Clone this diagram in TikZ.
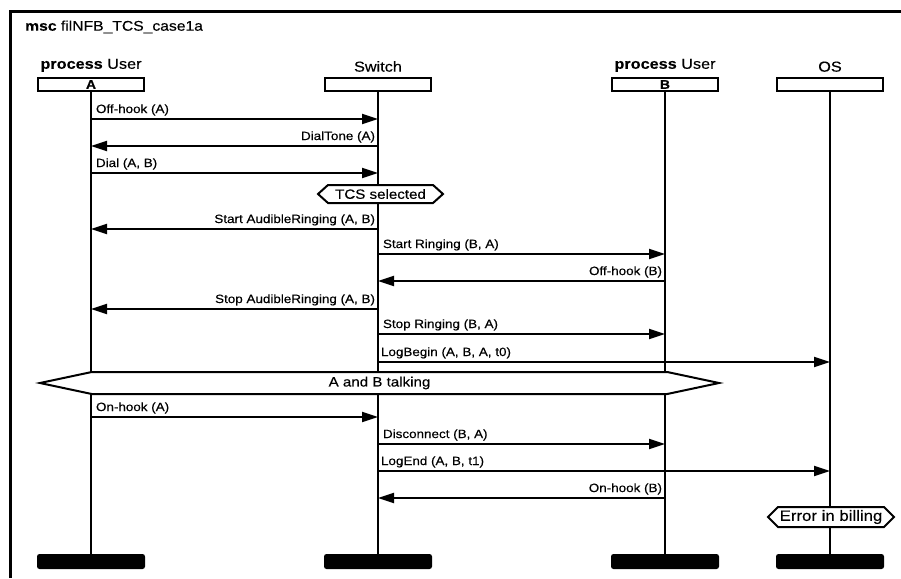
\documentclass[tikz,border=0pt]{standalone}
\usepackage{fontspec}
\setmainfont{Liberation Sans}[FakeStretch=1.12, FakeBold=0.3]
\usetikzlibrary{arrows.meta,positioning,shapes.symbols}

\begin{document}
\begin{tikzpicture}[x=1pt, y=-1pt,
    boxStyle/.style={rectangle, draw, line width=2pt, minimum width=106pt, minimum height=13pt, inner sep=0pt, font=\fontsize{12.5}{12.5}\selectfont\bfseries},
    endStyle/.style={rectangle, fill=black, rounded corners=2.5pt, minimum width=108pt, minimum height=15pt, inner sep=0pt},
    headStyle/.style={inner sep=0pt, font=\fontsize{14.5}{15}\selectfont},
    lifeStyle/.style={line width=1.7pt},
    msgStyle/.style={line width=2pt, -{Triangle[length=16pt, width=10pt]}},
    rightLabel/.style={pos=0, anchor=south west, inner xsep=4pt, inner ysep=2.5pt, font=\fontsize{12}{12}\selectfont},
    leftLabel/.style={pos=0, anchor=south east, inner xsep=2pt, inner ysep=2.5pt, font=\fontsize{12}{12}\selectfont},
    condStyle/.style={shape=signal, signal to=west and east, draw, fill=white, line width=2pt, inner sep=0pt, font=\fontsize{13.5}{14}\selectfont}]
    \useasboundingbox (0,0) rectangle (901,578);
    \draw[line width=3pt] (10,578) -- (10,12) -- (901,12);
    \node[anchor=west, inner sep=0pt, font=\fontsize{14}{14}\selectfont] (title) at (25,27) {\textbf{msc} filNFB\_TCS\_case1a};

    \node[boxStyle] (A_box)  at (91, 84.5) {A};
    \node[boxStyle] (Sw_box) at (378, 84.5) {};
    \node[boxStyle] (B_box)  at (665, 84.5) {B};
    \node[boxStyle] (OS_box) at (830, 84.5) {};

    \node[headStyle, above=5pt of A_box]  (A_head)  {\textbf{process} User};
    \node[headStyle, above=5pt of Sw_box] (Sw_head) {Switch};
    \node[headStyle, above=5pt of B_box]  (B_head)  {\textbf{process} User};
    \node[headStyle, above=5pt of OS_box] (OS_head) {OS};

    \node[endStyle] (A_end)  at (91, 561.5) {};
    \node[endStyle] (Sw_end) at (378, 561.5) {};
    \node[endStyle] (B_end)  at (665, 561.5) {};
    \node[endStyle] (OS_end) at (830, 561.5) {};

    \draw[lifeStyle] (A_box) -- (A_end);
    \draw[lifeStyle] (Sw_box) -- (Sw_end);
    \draw[lifeStyle] (B_box) -- (B_end);
    \draw[lifeStyle] (OS_box) -- (OS_end);

    \node[condStyle, signal pointer angle=84, minimum width=125pt, minimum height=18pt] (tcs) at (380.5, 194) {TCS selected};
    \node[condStyle, signal pointer angle=24, minimum width=679pt, minimum height=22pt] (talk) at (379.5, 383) {A and B talking};
    \node[condStyle, signal pointer angle=90, minimum width=126pt, minimum height=20pt, font=\fontsize{15}{15}\selectfont] (err) at (831, 517) {Error in billing};

    \draw[msgStyle] (A_box |- 0,119) -- (Sw_box |- 0,119) node[rightLabel] {Off-hook (A)};
    \draw[msgStyle] (Sw_box |- 0,146) -- (A_box |- 0,146) node[leftLabel] {DialTone (A)};
    \draw[msgStyle] (A_box |- 0,173) -- (Sw_box |- 0,173) node[rightLabel] {Dial (A, B)};
    \draw[msgStyle] (Sw_box |- 0,229) -- (A_box |- 0,229) node[leftLabel] {Start AudibleRinging (A, B)};
    \draw[msgStyle] (Sw_box |- 0,254) -- (B_box |- 0,254) node[rightLabel] {Start Ringing (B, A)};
    \draw[msgStyle] (B_box |- 0,281) -- (Sw_box |- 0,281) node[leftLabel] {Off-hook (B)};
    \draw[msgStyle] (Sw_box |- 0,309) -- (A_box |- 0,309) node[leftLabel] {Stop AudibleRinging (A, B)};
    \draw[msgStyle] (Sw_box |- 0,334) -- (B_box |- 0,334) node[rightLabel] {Stop Ringing (B, A)};
    \draw[msgStyle] (Sw_box |- 0,362) -- (OS_box |- 0,362) node[rightLabel, inner xsep=2pt] {LogBegin (A, B, A, t0)};

    \draw[msgStyle] (A_box |- 0,417) -- (Sw_box |- 0,417) node[rightLabel] {On-hook (A)};
    \draw[msgStyle] (Sw_box |- 0,444) -- (B_box |- 0,444) node[rightLabel] {Disconnect (B, A)};
    \draw[msgStyle] (Sw_box |- 0,471) -- (OS_box |- 0,471) node[rightLabel, inner xsep=2pt] {LogEnd (A, B, t1)};
    \draw[msgStyle] (B_box |- 0,498) -- (Sw_box |- 0,498) node[leftLabel] {On-hook (B)};
\end{tikzpicture}
\end{document}
